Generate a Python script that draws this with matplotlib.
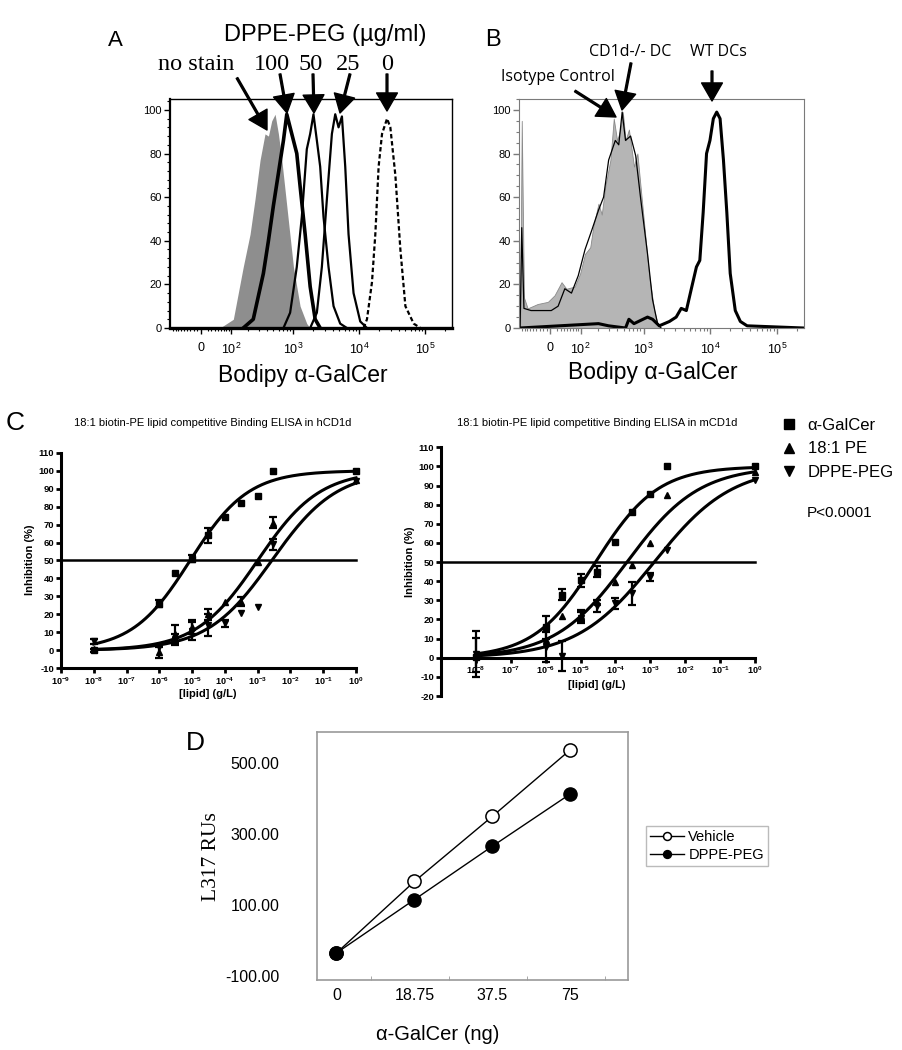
import numpy as np
import matplotlib
matplotlib.use("Agg")
import matplotlib.pyplot as plt
from matplotlib.lines import Line2D
from matplotlib.ticker import MultipleLocator, NullLocator, FixedLocator

plt.rcParams['font.family'] = ['Liberation Sans', 'DejaVu Sans']
plt.rcParams['mathtext.fontset'] = 'custom'
plt.rcParams['mathtext.rm'] = 'Liberation Sans'
plt.rcParams['mathtext.bf'] = 'Liberation Sans:bold'
plt.rcParams['mathtext.it'] = 'Liberation Sans:italic'

# ---------------- Panel A : flow histograms (fluorescence, % of max) ----------------
a_nostain_x = [57, 111, 166, 215, 258, 310, 370, 418, 470, 529, 595, 670, 798, 1008, 1272, 1608, 1808]
a_nostain_y = [0, 4, 28, 43, 59, 77, 89, 88, 95, 98, 89, 77, 56, 28, 10, 2, 0]
a_100_x = [166, 242, 349, 418, 498, 595, 710, 798, 897, 1008, 1133, 1272, 1517, 1808, 2154, 2565]
a_100_y = [0, 4, 25, 40, 56, 71, 86, 98, 92, 86, 80, 65, 43, 19, 4, 0]
a_50_x = [710, 897, 1133, 1351, 1608, 1808, 2030, 2284, 2565, 2880, 3432, 4090, 5160, 6520]
a_50_y = [0, 7, 28, 51, 82, 89, 98, 86, 74, 51, 28, 10, 2, 0]
a_25_x = [1808, 2284, 2720, 3240, 3860, 4340, 4870, 5480, 6150, 6900, 8220, 10380, 13130]
a_25_y = [0, 7, 28, 59, 89, 98, 92, 97, 74, 43, 16, 3, 0]
a_0_x = [11660, 13130, 15630, 17570, 19710, 22200, 26450, 29670, 35350, 42100, 50160, 67040, 84720]
a_0_y = [0, 4, 21, 43, 74, 89, 96, 92, 70, 36, 10, 2, 0]
a_dose_labels = ['no stain', '100', '50', '25', '0']

# ---------------- Panel B ----------------
b_iso_x = [-99, -92, -83, -69, -36, -6.5, 12, 32, 47, 76, 98, 121, 149, 169, 204, 230, 262, 314, 354, 398,
           448, 487, 535, 602, 718, 808, 962, 1216, 1448, 1625, 1830]
b_iso_y = [0, 95, 14, 9, 11, 12, 15, 21, 18, 19, 25, 34, 37, 47, 57, 52, 65, 77, 96, 86,
           91, 99, 86, 91, 74, 80, 56, 24, 8, 2, 0]
b_ko_x = [-99, -92, -83, -57, -26, 2.8, 22, 42, 64, 90, 121, 159, 204, 246, 295, 374, 422, 476,
          535, 638, 762, 908, 1148, 1366, 1625, 1830]
b_ko_y = [0, 46, 9, 8, 8, 8, 10, 18, 16, 24, 36, 45, 54, 60, 77, 86, 84, 99,
          86, 88, 79, 59, 34, 13, 2, 0]
b_wt_x = [-99, 204, 295, 535, 602, 718, 1148, 1366, 1725, 2450, 3090, 3680, 4390, 5220, 6220, 6990,
          7850, 8820, 9920, 11150, 12530, 14070, 15810, 17760, 19970, 23780, 28330, 35760, 250000]
b_wt_y = [0, 2, 1, 0, 4, 2, 5, 4, 1, 3, 5, 9, 8, 18, 28, 31,
          53, 80, 86, 96, 99, 96, 77, 53, 25, 8, 3, 1, 0]
b_labels = ['Isotype Control', 'CD1d-/- DC', 'WT DCs']

# ---------------- Panel C : competitive binding ELISA ----------------
c_series = ['α-GalCer', '18:1 PE', 'DPPE-PEG']
# hCD1d
h_conc = [1e-8, 1e-6, 3e-6, 1e-5, 3e-5, 1e-4, 3e-4, 1e-3, 3e-3, 1e0]
h_gal = [0, 26, 43, 51, 64, 74, 82, 86, 100, 100]
h_gal_err = [1, 2, 0, 2, 4, 0, 0, 0, 0, 0]
h_pe = [1, -1, 9, 13, 20, 27, 27, 49, 71, 95]
h_pe_err = [0, 3, 5, 4, 3, 0, 2.5, 0, 3, 0]
h_dppe = [5, 2, 6, 11, 14, 15, 21, 24, 59, 94]
h_dppe_err = [1.5, 0, 3, 5, 6, 2, 0, 0, 3, 0]
# mCD1d
m_conc = [1e-8, 1e-6, 3e-6, 1e-5, 3e-5, 1e-4, 3e-4, 1e-3, 3e-3, 1e0]
m_gal = [0.5, 16, 33, 40.5, 45, 60.6, 76.3, 85.6, 100, 100]
m_gal_err = [0, 6, 3, 3.5, 3, 0, 0, 0, 0, 0]
m_pe = [1.5, 9.3, 22, 22, 29, 39.7, 48.5, 59.8, 85, 97]
m_pe_err = [9, 0, 0, 3, 0, 0, 0, 0, 0, 0]
m_dppe = [2, 5.7, 1, 21, 27, 28.4, 33.7, 42.3, 56.3, 93]
m_dppe_err = [12, 8, 8, 3, 3, 3, 6, 2, 0, 0]
# fitted sigmoid parameters: bottom, top, logEC50, Hill slope
h_fit = {'α-GalCer': (0, 100, -5.06, 0.49), '18:1 PE': (0, 100, -3.0, 0.46), 'DPPE-PEG': (0, 100, -2.57, 0.44)}
m_fit = {'α-GalCer': (0, 100, -4.57, 0.49), '18:1 PE': (0, 100, -3.67, 0.42), 'DPPE-PEG': (0, 100, -2.89, 0.39)}

# ---------------- Panel D ----------------
d_cats = ['0', '18.75', '37.5', '75']
d_vehicle = [-35, 166, 349, 536]
d_dppe = [-35, 115, 265, 412]

W, H = 903, 1050
fig = plt.figure(figsize=(W / 100, H / 100), dpi=100)


def fx(px):
    return px / W


def fy(py):
    return 1 - py / H


def box(l, t, r, b):
    return [fx(l), fy(b), (r - l) / W, (b - t) / H]


# ---------- Flow panels ----------
decade_ticks = [0, 1e2, 1e3, 1e4, 1e5]
decade_labels = ['0', '$10^2$', '$10^3$', '$10^4$', '$10^5$']
minor = [-k * 10 for k in range(1, 10)] + [k * 10 ** d for d in range(1, 5) for k in range(2, 10)] + [2e5]


def flow_axes(rect, spine_color, spine_lw, minor_step):
    ax = fig.add_axes(rect)
    ax.set_xscale('asinh', linear_width=80)
    ax.set_xlim(-104, 2.55e5)
    ax.set_ylim(0, 105)
    ax.set_xticks(decade_ticks)
    ax.set_xticklabels(decade_labels)
    ax.xaxis.set_minor_locator(FixedLocator(minor))
    ax.set_yticks(range(0, 101, 20))
    ax.yaxis.set_minor_locator(MultipleLocator(minor_step))
    ax.tick_params(labelsize=8, length=4, width=1, color=spine_color, pad=2)
    ax.tick_params(axis='x', pad=6, labelsize=9)
    ax.tick_params(which='minor', length=2.2, width=0.8, color=spine_color)
    for s in ax.spines.values():
        s.set_color(spine_color)
        s.set_linewidth(spine_lw)
    return ax


axA = flow_axes(box(170, 99, 452, 328), 'black', 1.0, 4)
axA.spines['bottom'].set_linewidth(2.4)
axA.spines['left'].set_linewidth(1.6)
axA.fill_between(a_nostain_x, a_nostain_y, 0, color='#8e8e8e', lw=0)
axA.plot(a_100_x, a_100_y, color='black', lw=2.6)
axA.plot(a_50_x, a_50_y, color='black', lw=1.6)
axA.plot(a_25_x, a_25_y, color='black', lw=1.6)
axA.plot(a_0_x, a_0_y, color='black', lw=1.6, ls=(0, (2, 1.2)))

axB = flow_axes(box(519, 99, 804, 328), '#7a7a7a', 0.8, 5)
axB.fill_between(b_iso_x, b_iso_y, 0, color='#b5b5b5', lw=0.6, edgecolor='#8a8a8a')
axB.plot(b_ko_x, b_ko_y, color='black', lw=0.9)
axB.plot(b_wt_x, b_wt_y, color='black', lw=2.2)

fig.text(fx(303), fy(375), 'Bodipy α-GalCer', fontsize=16.5, ha='center', va='center')
fig.text(fx(653), fy(373), 'Bodipy α-GalCer', fontsize=16.5, ha='center', va='center')
fig.text(fx(115), fy(40), 'A', fontsize=16, ha='center', va='center')
fig.text(fx(493), fy(40), 'B', fontsize=17, ha='center', va='center')
fig.text(fx(325), fy(35), 'DPPE-PEG (µg/ml)', fontsize=17, ha='center', va='center')

serif = ['Liberation Serif', 'DejaVu Serif']
a_lab_px = [196, 272, 311, 348, 387]
for lab, px in zip(a_dose_labels, a_lab_px):
    fig.text(fx(px), fy(64), lab, fontsize=17.5, family=serif, ha='center', va='center')

arrow_kw = dict(width=1.3, headwidth=15, headlength=13, color='black', shrink=0)
# (tail, tip) in figure pixels
a_arrows = [((237, 78), (267, 130)), ((280, 74), (287, 113)), ((313, 74), (314, 113)),
            ((350, 74), (340, 113)), ((387, 74), (387, 111))]
for (tx, ty), (hx, hy) in a_arrows:
    axA.annotate('', xy=(fx(hx), fy(hy)), xytext=(fx(tx), fy(ty)), xycoords='figure fraction',
                 textcoords='figure fraction', arrowprops=arrow_kw, annotation_clip=False)

sans2 = ['Open Sans', 'DejaVu Sans']
fig.text(fx(558), fy(77), b_labels[0], fontsize=11.5, family=sans2, ha='center', va='center')
fig.text(fx(630), fy(52), b_labels[1], fontsize=11.5, family=sans2, ha='center', va='center')
fig.text(fx(718), fy(52), b_labels[2], fontsize=11.5, family=sans2, ha='center', va='center')
b_arrows = [((575, 91), (616, 117)), ((631, 63), (622, 110)), ((712, 71), (712, 101))]
for (tx, ty), (hx, hy) in b_arrows:
    axB.annotate('', xy=(fx(hx), fy(hy)), xytext=(fx(tx), fy(ty)), xycoords='figure fraction',
                 textcoords='figure fraction', arrowprops=arrow_kw, annotation_clip=False)

# ---------- Panel C ----------
markers = {'α-GalCer': 's', '18:1 PE': '^', 'DPPE-PEG': 'v'}


def sigmoid(logx, bottom, top, logec50, hill):
    return bottom + (top - bottom) / (1 + 10 ** ((logec50 - logx) * hill))


def elisa(rect, ymin, conc, vals, errs, fits, label_first, xaxis_at_zero):
    ax = fig.add_axes(rect)
    ax.set_xscale('log')
    for s in ['top', 'right']:
        ax.spines[s].set_visible(False)
    for s in ['left', 'bottom']:
        ax.spines[s].set_linewidth(2.2)
    if xaxis_at_zero:
        ax.spines['bottom'].set_position(('data', 0))
    ax.set_xlim(1e-9, 1e0)
    ax.set_ylim(ymin, 110)
    xt = [10.0 ** e for e in range(-9, 1)]
    xl = [r'$\mathbf{10^{%d}}$' % e for e in range(-9, 1)]
    if not label_first:
        xl[0] = ''
    ax.set_xticks(xt)
    ax.set_xticklabels(xl, fontsize=6.5)
    ax.xaxis.set_minor_locator(NullLocator())
    yt = list(range(ymin, 111, 10))
    ax.set_yticks(yt)
    ax.set_yticklabels([str(v) for v in yt], fontsize=6.8, fontweight='bold')
    ax.tick_params(width=2, length=3.5, pad=1.5)
    ax.axhline(50, color='black', lw=1.8, clip_on=False)
    logc = np.log10(conc)
    grid = np.linspace(logc.min(), logc.max(), 300)
    handles = []
    for name, v, e in zip(c_series, vals, errs):
        v = np.asarray(v, float)
        e = np.asarray(e, float)
        ax.plot(10 ** grid, sigmoid(grid, *fits[name]), color='black', lw=2.2, clip_on=False)
        m = e > 0
        ax.errorbar(np.asarray(conc)[m], v[m], yerr=e[m], fmt='none', ecolor='black',
                    elinewidth=1.6, capsize=3, capthick=1.6, clip_on=False)
        h, = ax.plot(conc, v, ls='none', marker=markers[name], color='black', ms=4.8, clip_on=False)
        handles.append(h)
    return ax, handles


axC1, _ = elisa(box(61, 452.7, 356, 668.3), -10, h_conc, [h_gal, h_pe, h_dppe],
                [h_gal_err, h_pe_err, h_dppe_err], h_fit, True, False)
axC2, c_handles = elisa(box(441, 447.3, 755, 696), -20, m_conc, [m_gal, m_pe, m_dppe],
                        [m_gal_err, m_pe_err, m_dppe_err], m_fit, False, True)

fig.text(fx(213), fy(423), '18:1 biotin-PE lipid competitive Binding ELISA in hCD1d', fontsize=8,
         ha='center', va='center')
fig.text(fx(597), fy(423), '18:1 biotin-PE lipid competitive Binding ELISA in mCD1d', fontsize=8,
         ha='center', va='center')
fig.text(fx(30), fy(560), 'Inhibition (%)', fontsize=8, fontweight='bold', rotation=90,
         ha='center', va='center')
fig.text(fx(410), fy(562), 'Inhibition (%)', fontsize=8, fontweight='bold', rotation=90,
         ha='center', va='center')
fig.text(fx(208), fy(694), '[lipid] (g/L)', fontsize=8, fontweight='bold', ha='center', va='center')
fig.text(fx(597), fy(685), '[lipid] (g/L)', fontsize=8, fontweight='bold', ha='center', va='center')
fig.text(fx(15), fy(423), 'C', fontsize=19, ha='center', va='center')

leg_handles = [Line2D([], [], ls='none', marker=markers[n], color='black', ms=7) for n in c_series]
fig.legend(leg_handles, c_series, loc='upper left', bbox_to_anchor=(fx(781), fy(418)), frameon=False,
           fontsize=12, handlelength=1.0, handletextpad=0.6, labelspacing=0.5, borderpad=0,
           borderaxespad=0)
fig.text(fx(807), fy(513), 'P<0.0001', fontsize=11, ha='left', va='center')

# ---------- Panel D ----------
axD = fig.add_axes(box(317, 732, 628, 980))
xd = np.arange(len(d_cats))
axD.plot(xd, d_vehicle, '-o', color='black', mfc='white', mec='black', ms=9.5, lw=1.0, mew=1.1,
         label='Vehicle')
axD.plot(xd, d_dppe, '-o', color='black', mfc='black', mec='black', ms=9.5, lw=1.0, label='DPPE-PEG')
axD.set_xlim(-0.25, 3.74)
axD.set_ylim(-111, 586)
axD.set_yticks([-100, 100, 300, 500])
axD.set_yticklabels(['-100.00', '100.00', '300.00', '500.00'], fontsize=11.5)
axD.set_xticks(xd)
axD.set_xticklabels(d_cats, fontsize=11.5)
axD.xaxis.set_minor_locator(FixedLocator([0.44, 1.44, 2.44, 3.44]))
axD.tick_params(axis='both', which='major', length=0)
axD.tick_params(axis='x', which='major', pad=6)
axD.tick_params(axis='y', which='major', pad=27)
axD.tick_params(axis='x', which='minor', direction='in', length=3, color='#999999')
for s in axD.spines.values():
    s.set_color('#9a9a9a')
    s.set_linewidth(1.2)
fig.text(fx(212), fy(857), 'L317 RUs', fontsize=15.5, family=serif, rotation=90, ha='center', va='center')
fig.text(fx(438), fy(1035), 'α-GalCer (ng)', fontsize=14.5, ha='center', va='center')
fig.text(fx(195), fy(743), 'D', fontsize=19, ha='center', va='center')
legD = fig.legend(*axD.get_legend_handles_labels(), loc='upper left', bbox_to_anchor=(fx(646), fy(826)),
                  fontsize=10.5, frameon=True, fancybox=False, edgecolor='#aaaaaa', markerscale=0.6,
                  handlelength=2.3, handletextpad=0.3, borderpad=0.3, labelspacing=0.25, borderaxespad=0)
legD.get_frame().set_linewidth(1.0)

fig.savefig('out.png', dpi=100)
